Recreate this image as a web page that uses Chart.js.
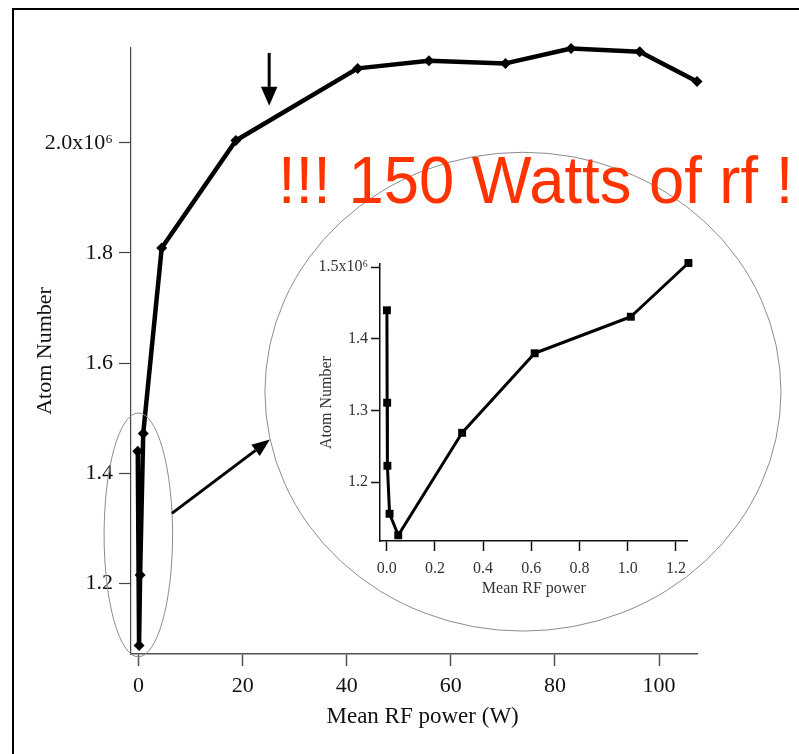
<!DOCTYPE html>
<html>
<head>
<meta charset="utf-8">
<script src="https://cdn.jsdelivr.net/npm/chart.js@4.4.1/dist/chart.umd.min.js"></script>
<style>
  html, body { margin:0; padding:0; background:#fff; }
  body { width:799px; height:754px; overflow:hidden; position:relative; }
  #frame { position:absolute; left:12px; top:8px; width:1000px; height:1000px; border-left:2px solid #000; border-top:2px solid #000; }
  #main { position:absolute; left:0; top:0; }
  #inset { position:absolute; left:300px; top:240px; }
  #shout { position:absolute; left:278px; top:147px; font-family:"Liberation Sans", Arial, sans-serif; font-size:66px; line-height:1;
           color:#ff3300; white-space:nowrap; transform:scaleX(0.96); transform-origin:0 0; }
</style>
</head>
<body>
<div id="frame"></div>
<canvas id="main" width="799" height="754"></canvas>
<canvas id="inset" width="420" height="380"></canvas>
<div id="shout">!!! 150 Watts of rf !!!</div>
<script>
// main plot: atom number (x10^6) vs mean rf power in W
const powerW    = [-0.15, 0.1, 0.3, 0.9, 4.45, 18.7, 42.1, 55.8, 70.5, 83.1, 96.3, 107.3];
const atomsMain = [1.44, 1.087, 1.215, 1.472, 1.809, 2.004, 2.135, 2.149, 2.144, 2.171, 2.165, 2.111];
const mainXTicks = [0, 20, 40, 60, 80, 100];
const mainYTicks = [1.2, 1.4, 1.6, 1.8, 2.0];

// inset: the low power end
const powerLow = [0.001, 0.002, 0.003, 0.012, 0.048, 0.313, 0.614, 1.013, 1.252];
const atomsLow = [1.440, 1.311, 1.223, 1.156, 1.126, 1.269, 1.380, 1.431, 1.506];
const insetXTicks = [0, 0.2, 0.4, 0.6, 0.8, 1.0, 1.2];
const insetYTicks = [1.2, 1.3, 1.4, 1.5];

const serif = 'Liberation Serif';

function arrow(ctx, x0, y0, x1, y1, len, half) {
    const a = Math.atan2(y1 - y0, x1 - x0)
    const bx = x1 - len * Math.cos(a), by = y1 - len * Math.sin(a)
    ctx.strokeStyle = '#000'; ctx.fillStyle = '#000'; ctx.lineWidth = 3
    ctx.beginPath(); ctx.moveTo(x0, y0); ctx.lineTo(bx, by); ctx.stroke()
    ctx.beginPath(); ctx.moveTo(x1, y1)
    ctx.lineTo(bx + half * Math.sin(a), by - half * Math.cos(a))
    ctx.lineTo(bx - half * Math.sin(a), by + half * Math.cos(a))
    ctx.closePath(); ctx.fill()
}

// ellipses and arrows, placed in data units of the main plot
const notes = {
    id: 'notes',
    afterDraw(chart) {
        const {ctx, scales: {x, y}} = chart
        const px = v => x.getPixelForValue(v), py = v => y.getPixelForValue(v)
        ctx.save()
        ctx.strokeStyle = '#8c8c8c'; ctx.lineWidth = 1
        ctx.beginPath()
        ctx.ellipse(px(-0.04), py(1.288), px(6.58) - px(0), py(1.288 - 0.2214) - py(1.288), 0, 0, 2 * Math.PI)
        ctx.stroke()
        ctx.beginPath()
        ctx.ellipse(px(73.86), py(1.548), px(49.58) - px(0), py(1.548 - 0.4347) - py(1.548), 0, 0, 2 * Math.PI)
        ctx.stroke()
        arrow(ctx, px(6.4), py(1.327), px(25.24), py(1.461), 18, 7)
        arrow(ctx, px(25.1), py(2.163), px(25.1), py(2.067), 19, 8.3)
        ctx.restore()
    }
}

function axis(o) {
    return {
        type: 'linear', min: o.min, max: o.max,
        afterBuildTicks: s => { s.ticks = o.ticks.map(v => ({value: v})) },
        afterFit: s => { if (o.width) s.width = o.width; if (o.height) s.height = o.height },
        ticks: {font: {family: serif, size: o.size}, color: o.color, padding: o.pad, callback: o.label},
        grid: {drawOnChartArea: false, drawTicks: true, tickLength: o.tick, tickColor: o.line, tickWidth: o.lw},
        border: {display: true, color: o.line, width: o.lw},
        title: {display: true, text: o.title, font: {family: serif, size: o.tsize || o.size}, color: o.color, padding: o.tpad}
    }
}

new Chart(document.getElementById('main'), {
    type: 'scatter',
    data: {datasets: [{
        data: powerW.map((p, i) => ({x: p, y: atomsMain[i]})),
        showLine: true, borderColor: '#000', borderWidth: 4.5, borderJoinStyle: 'round',
        pointStyle: 'rectRot', pointRadius: 5.5, pointBackgroundColor: '#000', pointBorderWidth: 0,
        clip: false
    }]},
    options: {
        responsive: false, animation: false,
        layout: {padding: {left: 0, right: 102, top: 48, bottom: 0}},
        plugins: {legend: {display: false}, tooltip: {enabled: false}},
        scales: {
            x: axis({min: -1.45, max: 107.3, ticks: mainXTicks, height: 100, size: 22, color: '#111', pad: 7.4,
                     label: v => String(v), tick: 12, line: '#555', lw: 1.5,
                     title: '   Mean RF power (W)', tsize: 23, tpad: {top: 0, bottom: 23}}),
            y: axis({min: 1.0717, max: 2.172, ticks: mainYTicks, width: 131, size: 22, color: '#111', pad: 6,
                     label: v => v === 2 ? '2.0x10\u2076' : v.toFixed(1), tick: 12, line: '#444', lw: 1.2,
                     title: 'Atom Number', tpad: {top: 32, bottom: 0}})
        }
    },
    plugins: [notes]
})

new Chart(document.getElementById('inset'), {
    type: 'scatter',
    data: {datasets: [{
        data: powerLow.map((p, i) => ({x: p, y: atomsLow[i]})),
        showLine: true, borderColor: '#000', borderWidth: 3, borderJoinStyle: 'round',
        pointStyle: 'rect', pointRadius: 5.6, pointBackgroundColor: '#000', pointBorderWidth: 0,
        clip: false
    }]},
    options: {
        responsive: false, animation: false,
        layout: {padding: {left: 0, right: 32.3, top: 24, bottom: 0}},
        plugins: {legend: {display: false}, tooltip: {enabled: false}},
        scales: {
            x: axis({min: -0.0277, max: 1.249, ticks: insetXTicks, height: 79, size: 16, color: '#333', pad: 8,
                     label: v => v.toFixed(1), tick: 10, line: '#111', lw: 1.5,
                     title: 'Mean RF power', tpad: {top: 0, bottom: 21.8}}),
            y: axis({min: 1.118, max: 1.5046, ticks: insetYTicks, width: 80, size: 16, color: '#333', pad: 3,
                     label: v => v === 1.5 ? '1.5x10\u2076' : v.toFixed(1), tick: 9, line: '#111', lw: 1.5,
                     title: 'Atom Number', tpad: {top: 17.3, bottom: 0}})
        }
    }
})
</script>
</body>
</html>
